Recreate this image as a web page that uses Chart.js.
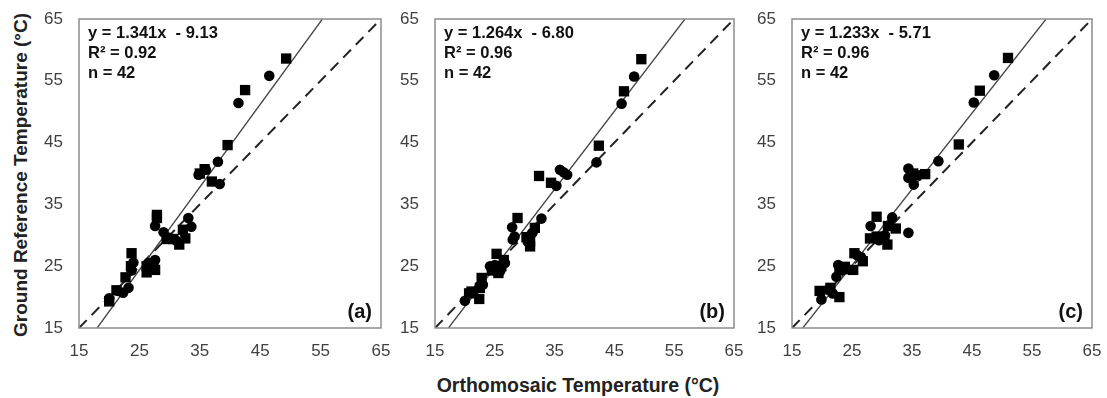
<!DOCTYPE html>
<html>
<head>
<meta charset="utf-8">
<script src="https://cdn.jsdelivr.net/npm/chart.js@4/dist/chart.umd.min.js"></script>
<style>
  body { margin: 0; background: #fff; width: 1107px; height: 398px; position: relative; overflow: hidden;
         font-family: "Liberation Sans", Arial, sans-serif; }
  canvas { position: absolute; top: 0; }
  #ytitle { position: absolute; left: 21px; top: 175px; transform: translate(-50%, -50%) rotate(-90deg);
            font-weight: bold; font-size: 19px; white-space: nowrap; color: #222; }
  #xtitle { position: absolute; left: 578px; top: 385px; transform: translate(-50%, -50%);
            font-weight: bold; font-size: 19.5px; white-space: nowrap; color: #222; }
</style>
</head>
<body>
<canvas id="panelA" width="356" height="368" style="left:37px"></canvas>
<canvas id="panelB" width="353" height="368" style="left:393px"></canvas>
<canvas id="panelC" width="354" height="368" style="left:750px"></canvas>
<div id="ytitle">Ground Reference Temperature (°C)</div>
<div id="xtitle">Orthomosaic Temperature (°C)</div>

<script>
// tick values shared by both axes of every panel
var axisMin = 15, axisMax = 65, axisStep = 10;

// panel (a) - [orthomosaic, ground reference]
var aCircles = [[46.5,55.8],[41.4,51.4],[38.0,41.9],[36.0,40.6],[38.3,38.3],[27.6,31.5],[29.0,30.5],
  [33.1,32.8],[33.6,31.4],[23.7,24.3],[23.2,21.5],[22.3,20.7],[20.0,19.8],[27.6,26.0],[27.3,25.3],
  [31.0,29.2],[21.5,21.0],[26.5,25.5],[34.8,39.8],[30.0,29.6],[24.0,25.6]];
var aSquares = [[49.3,58.6],[42.5,53.5],[39.6,44.6],[35.0,40.0],[35.8,40.7],[37.0,38.7],[27.9,32.8],
  [27.9,33.3],[29.5,29.4],[30.6,29.4],[31.6,28.5],[32.6,29.5],[32.2,30.9],[23.7,27.1],[23.6,25.0],
  [22.7,23.2],[21.2,21.1],[20.0,19.3],[26.2,24.0],[26.2,25.0],[27.6,24.4]];
var aTrend = [[18.0,15],[55.3,65]];

// panel (b)
var bCircles = [[48.3,55.7],[46.2,51.3],[42.0,41.8],[35.3,38.0],[35.9,40.6],[36.5,40.2],[37.1,39.8],
  [27.9,31.3],[32.8,32.7],[28.0,29.3],[31.3,30.4],[24.2,25.0],[25.9,24.2],[26.7,25.5],[22.5,21.8],
  [20.0,19.4],[21.4,20.8],[30.5,29.0],[25.0,25.2],[28.3,29.8],[23.0,22.0]];
var bSquares = [[49.5,58.5],[46.6,53.3],[42.4,44.5],[32.4,39.6],[34.4,38.5],[28.8,32.8],[31.7,31.2],
  [30.3,29.7],[30.9,29.0],[30.9,28.2],[25.3,27.0],[25.0,24.7],[26.1,25.0],[25.6,23.9],[22.8,23.1],
  [22.5,21.5],[21.1,20.9],[20.7,20.6],[22.4,19.7],[26.5,26.0],[24.5,24.3]];
var bTrend = [[17.25,15],[56.8,65]];

// panel (c)
var cCircles = [[48.7,55.9],[45.3,51.5],[39.4,42.0],[34.4,40.8],[35.3,38.2],[34.4,39.3],[34.4,30.4],
  [28.1,31.5],[31.7,32.9],[22.7,25.2],[19.9,19.6],[21.8,20.6],[25.8,26.8],[22.4,23.3],[29.5,29.2],
  [24.0,24.5],[21.0,21.2],[30.5,30.0],[23.0,24.8],[26.5,26.5],[35.0,39.6]];
var cSquares = [[51.0,58.7],[46.3,53.4],[42.8,44.7],[35.2,40.0],[35.7,39.7],[37.2,39.9],[29.1,33.0],
  [31.0,31.5],[32.3,31.1],[28.0,29.5],[29.1,29.8],[30.4,29.5],[30.9,28.5],[26.8,25.8],[25.4,27.1],
  [22.9,24.4],[23.8,24.9],[25.2,24.4],[19.6,21.0],[21.4,21.5],[22.9,20.0]];
var cTrend = [[16.8,15],[57.35,65]];

var oneToOne = [[15,15],[65,65]];

var labelsA = ['y = 1.341x  - 9.13', 'R² = 0.92', 'n = 42'];
var labelsB = ['y = 1.264x  - 6.80', 'R² = 0.96', 'n = 42'];
var labelsC = ['y = 1.233x  - 5.71', 'R² = 0.96', 'n = 42'];

function toXY(list) {
  return list.map(function(p) { return {x: p[0], y: p[1]}; });
}

// box round the plot area + equation text + panel tag
var framePlugin = {
  id: 'frame',
  afterDraw: function(chart, args, opts) {
    var a = chart.chartArea, ctx = chart.ctx;
    ctx.save();
    ctx.strokeStyle = '#8c8c8c';
    ctx.lineWidth = 1.5;
    ctx.strokeRect(a.left, a.top, a.right - a.left, a.bottom - a.top);
    ctx.fillStyle = '#111';
    ctx.textBaseline = 'middle';
    ctx.textAlign = 'left';
    ctx.font = 'bold 16.5px "Liberation Sans", Arial, sans-serif';
    opts.lines.forEach(function(t, i) {
      ctx.fillText(t, a.left + 9, a.top + 14 + i * 20);
    });
    ctx.textAlign = 'right';
    ctx.font = 'bold 20px "Liberation Sans", Arial, sans-serif';
    ctx.fillText(opts.tag, a.right - 9, a.bottom - 16);
    ctx.restore();
  }
};

function makePanel(id, circles, squares, trend, lines, tag) {
  var tickFont = {family: '"Liberation Sans", Arial, sans-serif', size: 17};
  new Chart(document.getElementById(id), {
    type: 'scatter',
    data: {
      datasets: [
        {data: toXY(circles), pointStyle: 'circle', pointRadius: 5.3, backgroundColor: '#000',
         borderColor: '#000', borderWidth: 0, order: 0},
        {data: toXY(squares), pointStyle: 'rect', pointRadius: 7.3, backgroundColor: '#000',
         borderColor: '#000', borderWidth: 0, order: 0},
        {data: toXY(trend), showLine: true, pointRadius: 0, borderColor: '#444', borderWidth: 1.3, order: 1},
        {data: toXY(oneToOne), showLine: true, pointRadius: 0, borderColor: '#222', borderWidth: 2,
         borderDash: [11, 7], order: 1}
      ]
    },
    options: {
      responsive: false,
      animation: false,
      layout: {padding: {top: 19, right: 12, left: 0, bottom: 0}},
      plugins: {
        legend: {display: false},
        tooltip: {enabled: false},
        frame: {lines: lines, tag: tag}
      },
      scales: {
        x: {
          type: 'linear', min: axisMin, max: axisMax,
          ticks: {stepSize: axisStep, color: '#404040', font: tickFont, padding: 13, maxRotation: 0},
          grid: {display: false, drawTicks: false}, border: {display: false},
          afterFit: function(s) { s.height = 40; s.paddingLeft = 0; s.paddingRight = 0; }
        },
        y: {
          type: 'linear', min: axisMin, max: axisMax,
          ticks: {stepSize: axisStep, color: '#404040', font: tickFont, padding: 16},
          grid: {display: false, drawTicks: false}, border: {display: false},
          afterFit: function(s) { s.width = 42; s.paddingTop = 0; s.paddingBottom = 0; }
        }
      }
    },
    plugins: [framePlugin]
  });
}

makePanel('panelA', aCircles, aSquares, aTrend, labelsA, '(a)');
makePanel('panelB', bCircles, bSquares, bTrend, labelsB, '(b)');
makePanel('panelC', cCircles, cSquares, cTrend, labelsC, '(c)');
</script>
</body>
</html>
